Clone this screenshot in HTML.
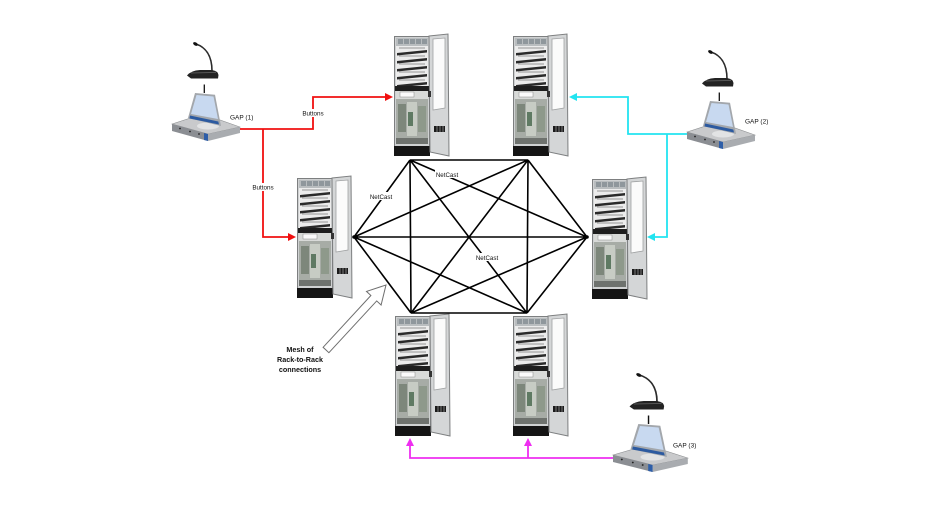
<!DOCTYPE html>
<html><head><meta charset="utf-8"><style>
html,body{margin:0;padding:0;background:#fff;}
svg{display:block;}
text{font-family:"Liberation Sans",Arial,sans-serif;fill:#111;}
</style></head><body>
<svg width="940" height="526" viewBox="0 0 940 526" xmlns="http://www.w3.org/2000/svg">
<defs>
<g id="rack">
  <rect x="0.5" y="2.5" width="35" height="118" fill="#cfd1d2" stroke="#7d7f80" stroke-width="1"/>
  <rect x="2" y="4" width="32" height="8" fill="#b9bdbf"/>
  <rect x="4" y="5" width="5" height="5" fill="#8f979c"/>
  <rect x="10" y="5" width="5" height="5" fill="#8f979c"/>
  <rect x="16" y="5" width="5" height="5" fill="#8f979c"/>
  <rect x="22" y="5" width="5" height="5" fill="#8f979c"/>
  <rect x="28" y="5" width="5" height="5" fill="#8f979c"/>
  <rect x="2" y="12" width="32" height="40" fill="#ececec"/>
  <path d="M3 19 L33 16 L33 18.5 L3 21.5 Z" fill="#2a2a2a"/>
  <path d="M3 27 L33 24 L33 26.5 L3 29.5 Z" fill="#2a2a2a"/>
  <path d="M3 35 L33 32 L33 34.5 L3 37.5 Z" fill="#2a2a2a"/>
  <path d="M3 43 L33 40 L33 42.5 L3 45.5 Z" fill="#2a2a2a"/>
  <path d="M3 51 L33 48 L33 50.5 L3 53.5 Z" fill="#2a2a2a"/>
  <path d="M5 14 H31 M5 22 H31 M5 30 H31 M5 38 H31 M5 46 H31" stroke="#7a7a7a" stroke-width="0.7"/>
  <rect x="1" y="52" width="34" height="5" fill="#1e1e1e"/>
  <rect x="2" y="57" width="32" height="8" fill="#d8dad8"/>
  <rect x="6" y="58" width="14" height="5" fill="#fafafa" stroke="#888" stroke-width="0.5"/>
  <rect x="2" y="65" width="32" height="45" fill="#a7aca6"/>
  <rect x="4" y="70" width="8" height="28" fill="#7d877b"/>
  <rect x="13" y="68" width="10" height="34" fill="#c7ccc4"/>
  <rect x="24" y="72" width="8" height="26" fill="#8e998b"/>
  <rect x="14" y="78" width="5" height="14" fill="#5f7a63"/>
  <rect x="2" y="104" width="32" height="6" fill="#6e726e"/>
  <rect x="0" y="112" width="36" height="10" fill="#151515"/>
  <path d="M35 2 L54 0 L55 122 L36 118 Z" fill="#d4d6d7" stroke="#7d7f80" stroke-width="1"/>
  <path d="M39 5 L51 4 L51 74 L39 76 Z" fill="#fbfbfb" stroke="#a0a2a3" stroke-width="0.8"/>
  <rect x="40" y="92" width="11" height="6" fill="#1b1b1b"/>
  <path d="M43 92 V98 M46 92 V98 M49 92 V98" stroke="#bbb" stroke-width="0.6"/>
  <rect x="34" y="57" width="3" height="6" fill="#333"/>
</g>
<g id="gap">
  <!-- microphone -->
  <path d="M212 71 C212 55, 205 47, 196 44" fill="none" stroke="#2b2b2b" stroke-width="1.6"/>
  <ellipse cx="195.5" cy="44" rx="2.6" ry="1.6" fill="#111" transform="rotate(30 195.5 44)"/>
  <path d="M187 75.5 Q191 70.5 200 70 L212 70 Q218 71 218.5 75 L218 78.5 L191 78.5 Z" fill="#232323"/>
  <path d="M191 73 L216 72.5" stroke="#666" stroke-width="0.8"/>
  <line x1="204.3" y1="84.5" x2="204.3" y2="93" stroke="#111" stroke-width="1.3"/>
  <!-- base box -->
  <polygon points="172,124 203,114 240,127 208,134" fill="#c9cacc" stroke="#8c8e90" stroke-width="0.6"/>
  <polygon points="172,124 208,134 208,141 172,131" fill="#8b8e93"/>
  <polygon points="208,134 240,127 240,133 208,141" fill="#a9acb0"/>
  <polygon points="204,133 208,134 208,141 204,140" fill="#2e5ea8"/>
  <circle cx="180" cy="128.5" r="0.9" fill="#222"/>
  <circle cx="190" cy="131.5" r="0.9" fill="#222"/>
  <circle cx="199" cy="134" r="0.9" fill="#222"/>
  <ellipse cx="208" cy="126" rx="11" ry="3.5" fill="#e2e3e4"/>
  <!-- lid / screen -->
  <polygon points="195,93 215,94.7 221,126 188,118" fill="#a3a7ac"/>
  <polygon points="196.5,95 213.5,96.5 218,119 191,114" fill="#c8d9f0"/>
  <polygon points="190,115.5 218.3,121.5 219,124.5 189.5,118.5" fill="#2c5aa0"/>
</g>
</defs>

<!-- racks -->
<use href="#rack" x="394" y="34"/>
<use href="#rack" x="513" y="34"/>
<use href="#rack" x="297" y="176"/>
<use href="#rack" x="592" y="177"/>
<use href="#rack" x="395" y="314"/>
<use href="#rack" x="513" y="314"/>

<!-- mesh -->
<path d="M410 160 L528 160 M410 160 L354 237 M410 160 L587 237 M410 160 L411 313 M410 160 L527 313
M528 160 L354 237 M528 160 L587 237 M528 160 L411 313 M528 160 L527 313
M354 237 L587 237 M354 237 L411 313 M354 237 L527 313
M587 237 L411 313 M587 237 L527 313 M411 313 L527 313" stroke="#000" stroke-width="1.6" fill="none"/>
<circle cx="354" cy="237" r="1.8" fill="#000"/>
<circle cx="587" cy="237" r="1.8" fill="#000"/>

<!-- NetCast labels -->
<rect x="435" y="170" width="24" height="8" fill="#fff"/>
<text x="447" y="177" font-size="6.2" text-anchor="middle">NetCast</text>
<rect x="369" y="192" width="24" height="8" fill="#fff"/>
<text x="381" y="199" font-size="6.2" text-anchor="middle">NetCast</text>
<rect x="475" y="253" width="24" height="8" fill="#fff"/>
<text x="487" y="260" font-size="6.2" text-anchor="middle">NetCast</text>

<!-- red connections -->
<path d="M233 129 H313 V97 H386 M263 129 V237 H289" stroke="#f01010" stroke-width="1.8" fill="none"/>
<polygon points="393,97 385,93 385,101" fill="#f01010"/>
<polygon points="296,237 288,233 288,241" fill="#f01010"/>
<rect x="301" y="109" width="24" height="8" fill="#fff"/>
<text x="313" y="115.5" font-size="6.3" text-anchor="middle">Buttons</text>
<rect x="251" y="183" width="24" height="8" fill="#fff"/>
<text x="263" y="189.5" font-size="6.3" text-anchor="middle">Buttons</text>

<!-- cyan connections -->
<path d="M688 134 H628 V97 H576 M667 134 V237 H654" stroke="#22e4f0" stroke-width="1.8" fill="none"/>
<polygon points="569,97 577,93 577,101" fill="#22e4f0"/>
<polygon points="647,237 655,233 655,241" fill="#22e4f0"/>

<!-- magenta connections -->
<path d="M614 458 H410 V445 M528 458 V445" stroke="#ee2ef0" stroke-width="1.8" fill="none"/>
<polygon points="410,438 406,446 414,446" fill="#ee2ef0"/>
<polygon points="528,438 524,446 532,446" fill="#ee2ef0"/>

<!-- GAP devices -->
<use href="#gap"/>
<use href="#gap" transform="translate(515,8)"/>
<use href="#gap" transform="translate(613,375) scale(1.1,1) translate(-172,-44)"/>
<text x="230" y="119.5" font-size="6.5">GAP (1)</text>
<text x="745" y="123.5" font-size="6.5">GAP (2)</text>
<text x="673" y="447.5" font-size="6.5">GAP (3)</text>

<!-- mesh arrow -->
<polygon points="323.1,347.3 370.9,295.5 366.5,291.4 386,285 381.1,305 376.7,300.9 328.9,352.7" fill="#fff" stroke="#6f6f6f" stroke-width="1"/>
<text x="300" y="352" font-size="7.2" font-weight="bold" text-anchor="middle">Mesh of</text>
<text x="300" y="362" font-size="7.2" font-weight="bold" text-anchor="middle">Rack-to-Rack</text>
<text x="300" y="372" font-size="7.2" font-weight="bold" text-anchor="middle">connections</text>
</svg>
</body></html>
